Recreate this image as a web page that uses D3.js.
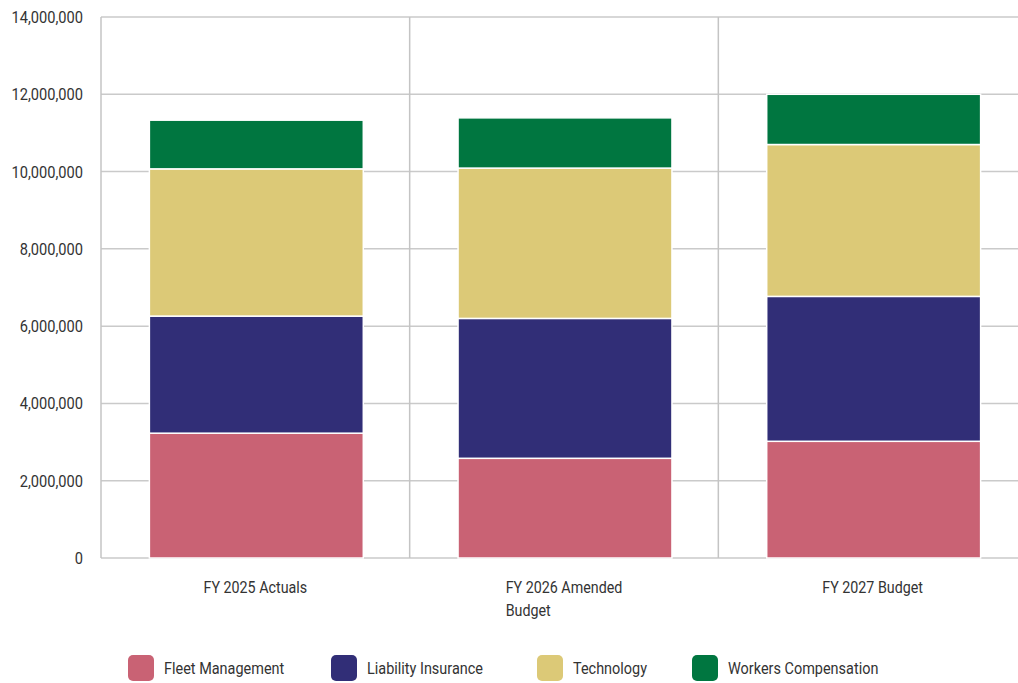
<!DOCTYPE html>
<meta charset="utf-8">
<style>
    body { margin: 0; background: #fff; }
    text { font-family: Roboto, "DejaVu Sans", sans-serif; fill: #333; }
</style>
<div id="chart"></div>
<script src="https://d3js.org/d3.v7.min.js"></script>
<script>
    // data
    var categories = ['FY 2025 Actuals', 'FY 2026 Amended Budget', 'FY 2027 Budget'];
    var seriesNames = ['Fleet Management', 'Liability Insurance', 'Technology', 'Workers Compensation'];
    var fleet = [3230000, 2580000, 3020000];
    var liability = [3030000, 3620000, 3750000];
    var technology = [3810000, 3890000, 3930000];
    var workers = [1260000, 1300000, 1300000];
    var yTicks = [0, 2000000, 4000000, 6000000, 8000000, 10000000, 12000000, 14000000];
    var colors = ['#c96274', '#312e77', '#dcc977', '#007640'];

    var width = 1018, height = 683;
    var margin = { top: 17, right: -9, bottom: 125, left: 101 };

    var svg = d3.select('#chart').append('svg')
        .attr('width', width)
        .attr('height', height);

    // squeeze text horizontally, the original uses a condensed face
    function condense(sel, ratio) {
        sel.each(function() {
            var w = this.getComputedTextLength();
            d3.select(this)
                .attr('textLength', w * ratio)
                .attr('lengthAdjust', 'spacingAndGlyphs');
        });
    }

    var rows = categories.map(function(c, i) {
        return {
            cat: c,
            'Fleet Management': fleet[i],
            'Liability Insurance': liability[i],
            'Technology': technology[i],
            'Workers Compensation': workers[i]
        };
    });

    var stacked = d3.stack().keys(seriesNames)(rows);

    var x = d3.scaleBand()
        .domain(categories)
        .range([margin.left, width - margin.right])
        .paddingInner(0)
        .paddingOuter(0);

    var barPad = 0.307; // fraction of band left empty

    var y = d3.scaleLinear()
        .domain([0, 14000000])
        .range([height - margin.bottom, margin.top]);

    // horizontal grid
    svg.append('g')
        .selectAll('line').data(yTicks)
        .enter().append('line')
        .attr('x1', margin.left).attr('x2', width)
        .attr('y1', d => y(d)).attr('y2', d => y(d))
        .attr('stroke', '#cacaca')
        .attr('stroke-width', 1.5);

    // vertical band separators
    svg.append('g')
        .selectAll('line').data(categories)
        .enter().append('line')
        .attr('x1', d => x(d)).attr('x2', d => x(d))
        .attr('y1', y(14000000)).attr('y2', y(0))
        .attr('stroke', '#c4c4c4')
        .attr('stroke-width', 1.5);

    // y labels
    svg.append('g')
        .attr('transform', 'translate(' + (margin.left - 18) + ',0)')
        .call(d3.axisLeft(y).tickValues(yTicks).tickSize(0).tickPadding(0).tickFormat(d3.format(',')))
        .call(g => g.select('.domain').remove())
        .selectAll('text')
        .style('font-size', '17px')
        .style('font-family', null)
        .attr('fill', '#333')
        .call(condense, 0.86);

    // bars
    svg.append('g')
        .selectAll('g').data(stacked)
        .enter().append('g')
        .attr('fill', (d, i) => colors[i])
        .selectAll('rect').data(d => d)
        .enter().append('rect')
        .attr('x', d => x(d.data.cat) + x.bandwidth() * barPad / 2 + 1)
        .attr('width', x.bandwidth() * (1 - barPad))
        .attr('y', d => y(d[1]))
        .attr('height', d => y(d[0]) - y(d[1]))
        .attr('stroke', '#fff')
        .attr('stroke-width', 1.5);

    // x labels (wrapped, left-aligned block centred on band)
    var xLab = svg.append('g');
    categories.forEach(function(c) {
        var lines = c === 'FY 2026 Amended Budget' ? ['FY 2026 Amended', 'Budget'] : [c];
        var t = xLab.append('text')
            .attr('y', 593)
            .style('font-size', '17px');
        lines.forEach(function(l, i) {
            t.append('tspan').attr('dy', i ? 23 : 0).text(l);
        });
        t.selectAll('tspan').call(condense, 0.84);
        var w = d3.max(t.selectAll('tspan').nodes(), n => +n.getAttribute('textLength'));
        var cx = x(c) + x.bandwidth() / 2;
        t.selectAll('tspan').attr('x', cx - w / 2);
    });

    // legend
    var legendX = [128, 331, 537, 692];
    var legend = svg.append('g')
        .selectAll('g').data(seriesNames)
        .enter().append('g')
        .attr('transform', (d, i) => 'translate(' + legendX[i] + ',655)');
    legend.append('rect')
        .attr('width', 26).attr('height', 26)
        .attr('rx', 5)
        .attr('fill', (d, i) => colors[i]);
    legend.append('text')
        .attr('x', 36).attr('y', 19)
        .style('font-size', '17px')
        .text(d => d)
        .call(condense, 0.85);
</script>
